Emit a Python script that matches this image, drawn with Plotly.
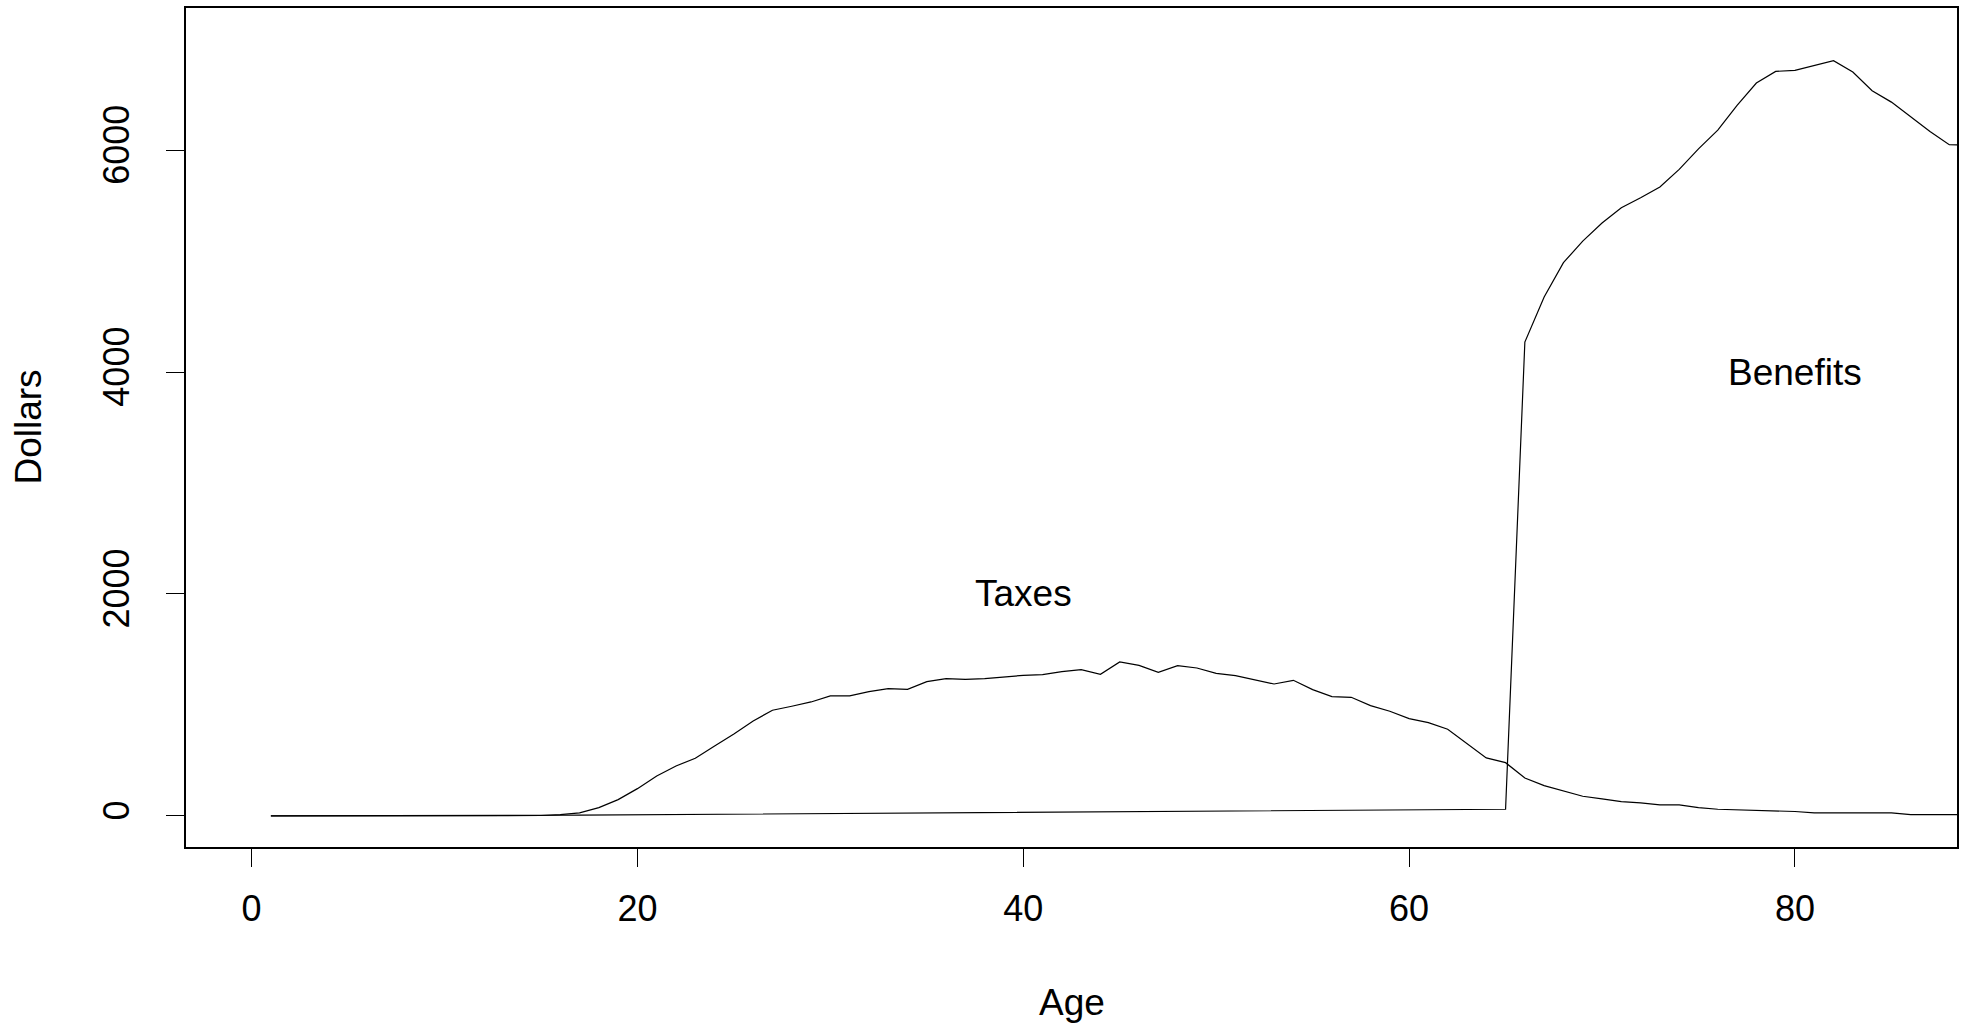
import plotly.graph_objects as go

ages = list(range(1, 90))

taxes = [0, 0, 0, 0, 0, 0, 1, 1, 1, 1, 2, 2, 3, 3, 4,
         12, 27, 75, 147, 246, 360, 450, 520, 631, 739, 856, 952, 988, 1027, 1081,
         1081, 1120, 1147, 1141, 1210, 1237, 1231, 1237, 1255, 1267, 1273, 1300, 1318, 1276, 1387,
         1357, 1294, 1354, 1333, 1285, 1264, 1225, 1189, 1222, 1138, 1075, 1069, 994, 943, 877,
         841, 781, 649, 523, 480, 342, 273, 225, 177, 153, 129, 117, 99, 99, 75,
         60, 55, 50, 45, 40, 27, 27, 27, 33, 27, 12, 12, 12, 12]

benefits = [0, 0, 0, 0, 1, 1, 2, 2, 3, 3, 4, 4, 5, 5, 6, 6,
            7, 8, 9, 10, 11, 12, 13, 14, 15, 16, 17, 18, 19, 20, 21, 22, 23, 24, 25, 26,
            27, 28, 29, 30, 31, 32, 33, 34, 35, 36, 37, 38, 39, 40, 41, 42, 43, 44, 45, 46,
            47, 48, 49, 50, 52, 54, 56, 58, 60,
            4270, 4676, 4985, 5180, 5342, 5480, 5571, 5667, 5826, 6010, 6180, 6402, 6604, 6709,
            6718, 6763, 6805, 6703, 6535, 6432, 6297, 6168, 6048, 6045]

x_ticks = [0, 20, 40, 60, 80]
y_ticks = [0, 2000, 4000, 6000]
labels = [("Taxes", 40, 2000), ("Benefits", 80, 4000)]

FONT = "Liberation Sans, Arial, Helvetica, sans-serif"
FS_TICK = 36
FS_TEXT = 37

fig = go.Figure()
fig.add_trace(go.Scatter(x=ages, y=taxes, mode="lines",
                         line=dict(color="black", width=1.2), showlegend=False))
fig.add_trace(go.Scatter(x=ages, y=benefits, mode="lines",
                         line=dict(color="black", width=1.2), showlegend=False))

for txt, xv, yv in labels:
    fig.add_annotation(x=xv, y=yv, text=txt, showarrow=False,
                       font=dict(family=FONT, size=FS_TEXT, color="black"),
                       xanchor="center", yanchor="middle")

fig.add_annotation(xref="paper", yref="paper", x=0.5, y=-0.1855, text="Age",
                   showarrow=False, font=dict(family=FONT, size=FS_TEXT, color="black"),
                   xanchor="center", yanchor="middle")
fig.add_annotation(xref="paper", yref="paper", x=-0.0892, y=0.5, text="Dollars",
                   showarrow=False, textangle=-90,
                   font=dict(family=FONT, size=FS_TEXT, color="black"),
                   xanchor="center", yanchor="middle")

fig.update_layout(
    width=1967, height=1026,
    margin=dict(l=186, r=10, t=6, b=179),
    paper_bgcolor="white", plot_bgcolor="white",
    font=dict(family=FONT, size=FS_TICK, color="black"),
    xaxis=dict(range=[-3.4, 88.4], tickvals=x_ticks, ticktext=[str(v) for v in x_ticks],
               ticks="outside", ticklen=18, tickwidth=1.2, tickcolor="black",
               showline=True, linecolor="black", linewidth=1.5, mirror=True,
               showgrid=False, zeroline=False, ticklabelstandoff=11),
    yaxis=dict(range=[-280, 7280], tickvals=y_ticks, ticktext=[str(v) for v in y_ticks],
               ticks="outside", ticklen=18, tickwidth=1.2, tickcolor="black",
               tickangle=-90,
               showline=True, linecolor="black", linewidth=1.5, mirror=True,
               showgrid=False, zeroline=False, ticklabelstandoff=23),
)

fig.write_html("out.html", config={"displayModeBar": False},
               post_script="document.body.style.margin='0';document.body.style.overflow='hidden';")
